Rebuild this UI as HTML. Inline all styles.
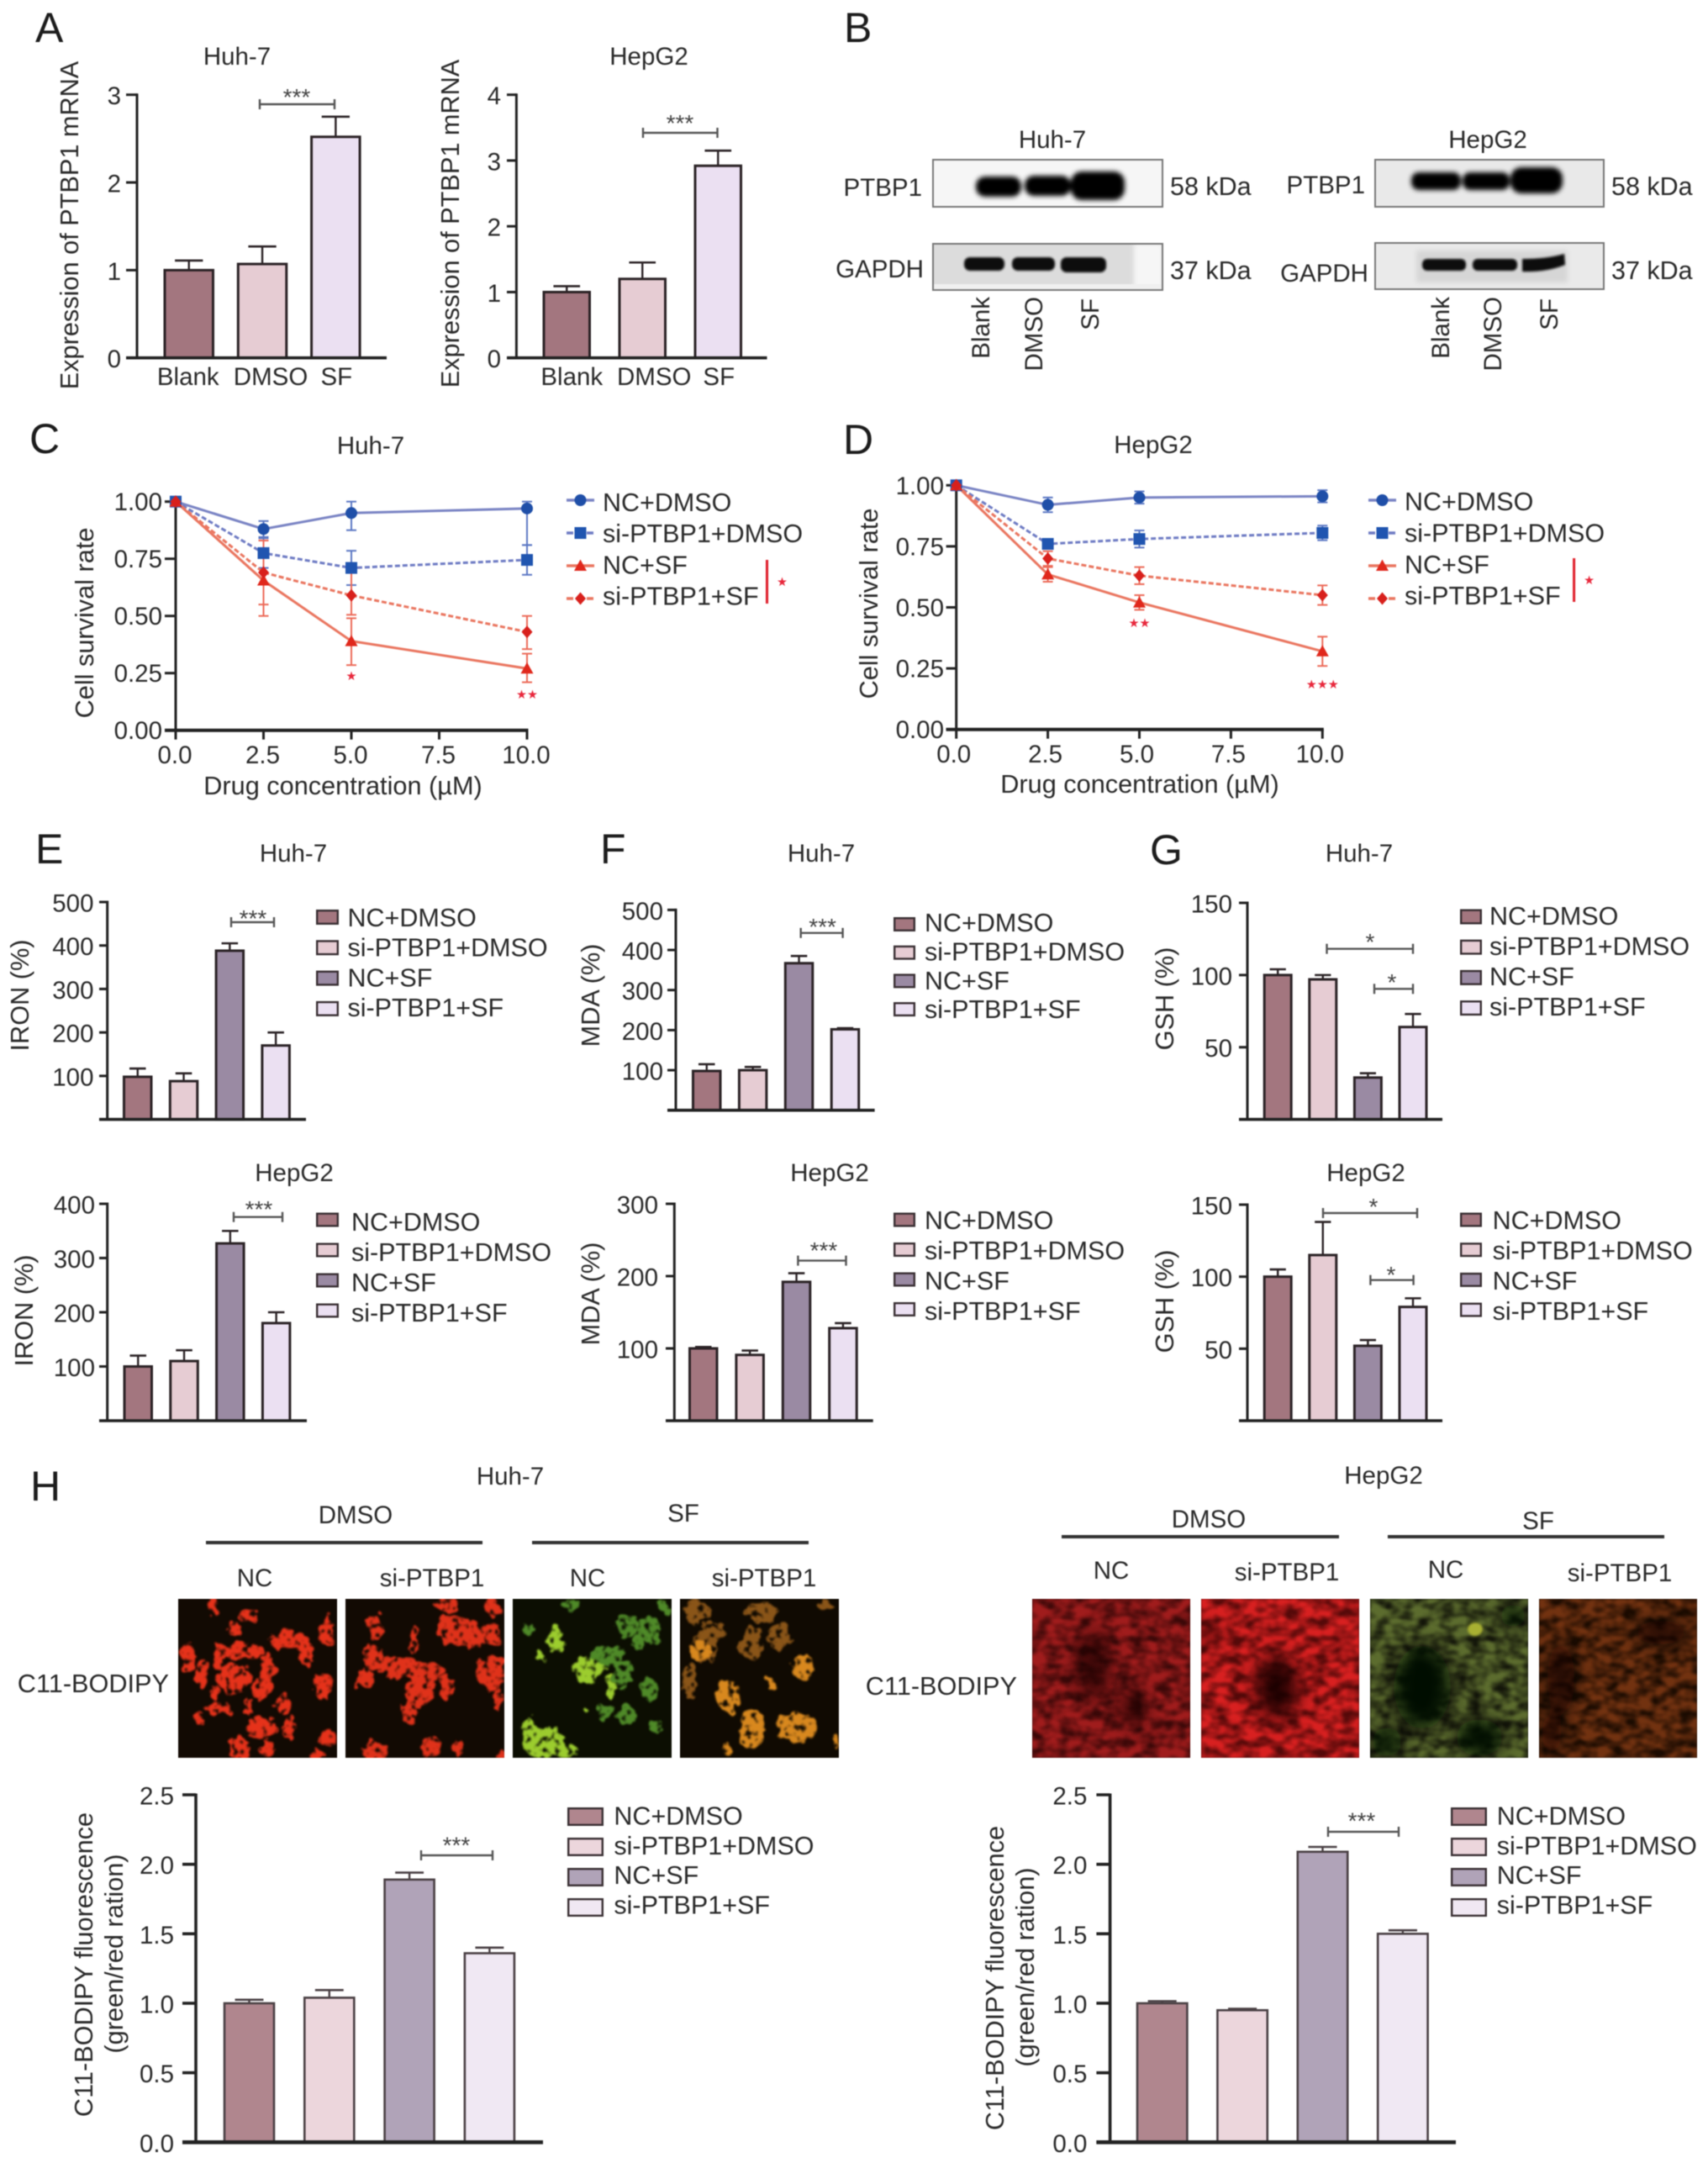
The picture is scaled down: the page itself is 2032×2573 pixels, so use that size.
<!DOCTYPE html>
<html lang="en">
<head>
<meta charset="utf-8">
<title>PTBP1 multi-panel figure</title>
<style>
html,body{margin:0;padding:0;background:#fff;}
svg#figure{display:block;filter:blur(.55px);}
text{font-family:"Liberation Sans",Arial,sans-serif;font-size:29.5px;fill:#2a2a2a;}
.panel{font-size:50px;fill:#1c1c1c;}
.wide{font-size:30.7px;}
.leg{font-size:30.5px;}
</style>
</head>
<body>
<svg id="figure" xmlns="http://www.w3.org/2000/svg" width="2032" height="2573" viewBox="0 0 2032 2573">
<defs>
<filter id="b1" x="-30%" y="-30%" width="160%" height="160%"><feGaussianBlur stdDeviation="1.4"/></filter>
<filter id="b3" x="-30%" y="-60%" width="160%" height="220%"><feGaussianBlur stdDeviation="3"/></filter>
<filter id="b12" x="-60%" y="-60%" width="220%" height="220%"><feGaussianBlur stdDeviation="11"/></filter>
<filter id="cells" x="-5%" y="-5%" width="110%" height="110%" color-interpolation-filters="sRGB"><feTurbulence type="fractalNoise" baseFrequency=".09" numOctaves="2" seed="5" result="n"/><feDisplacementMap in="SourceGraphic" in2="n" scale="16" xChannelSelector="R" yChannelSelector="G" result="d"/><feTurbulence type="fractalNoise" baseFrequency=".14" numOctaves="2" seed="9" result="m"/><feColorMatrix in="m" type="matrix" values="0 0 0 0 0 0 0 0 0 0 0 0 0 0 0 5 0 0 0 -1.3" result="a"/><feComposite in="d" in2="a" operator="in" result="c"/><feGaussianBlur in="c" stdDeviation="1"/></filter>
<filter id="tex1" x="0" y="0" width="1" height="1" color-interpolation-filters="sRGB"><feTurbulence type="fractalNoise" baseFrequency=".06 .09" numOctaves="2" seed="3" result="n"/><feColorMatrix in="n" type="matrix" values="0 0 0 0 0 0 0 0 0 0 0 0 0 0 0 2.4 0 0 0 -.6" result="a"/><feComposite in="SourceGraphic" in2="a" operator="in" result="c"/><feGaussianBlur in="c" stdDeviation="1"/></filter>
<filter id="tex2" x="0" y="0" width="1" height="1" color-interpolation-filters="sRGB"><feTurbulence type="fractalNoise" baseFrequency=".06 .09" numOctaves="2" seed="11" result="n"/><feColorMatrix in="n" type="matrix" values="0 0 0 0 0 0 0 0 0 0 0 0 0 0 0 2.4 0 0 0 -.6" result="a"/><feComposite in="SourceGraphic" in2="a" operator="in" result="c"/><feGaussianBlur in="c" stdDeviation="1"/></filter>
</defs>
<rect width="2032" height="2573" fill="#fff"/>

<!-- panel letters -->
<text class="panel" x="42" y="50">A</text>
<text class="panel" x="1004" y="50">B</text>
<text class="panel" x="35" y="539">C</text>
<text class="panel" x="1003" y="540">D</text>
<text class="panel" x="42" y="1027">E</text>
<text class="panel" x="714" y="1027">F</text>
<text class="panel" x="1368" y="1028">G</text>
<text class="panel" x="36" y="1785">H</text>

<!-- chart titles -->
<text x="282" y="77" text-anchor="middle">Huh-7</text>
<text x="772" y="77" text-anchor="middle">HepG2</text>
<text x="441" y="540" text-anchor="middle">Huh-7</text>
<text x="1372" y="539" text-anchor="middle">HepG2</text>
<text x="349" y="1025" text-anchor="middle">Huh-7</text>
<text x="350" y="1405" text-anchor="middle">HepG2</text>
<text x="977" y="1025" text-anchor="middle">Huh-7</text>
<text x="987" y="1405" text-anchor="middle">HepG2</text>
<text x="1617" y="1025" text-anchor="middle">Huh-7</text>
<text x="1625" y="1405" text-anchor="middle">HepG2</text>

<!-- y axis titles -->
<text class="wide" x="93" y="268" text-anchor="middle" transform="rotate(-90 93 268)">Expression of PTBP1 mRNA</text>
<text class="wide" x="546" y="266" text-anchor="middle" transform="rotate(-90 546 266)">Expression of PTBP1 mRNA</text>
<text class="wide" x="111" y="741" text-anchor="middle" transform="rotate(-90 111 741)">Cell survival rate</text>
<text class="wide" x="1044" y="718" text-anchor="middle" transform="rotate(-90 1044 718)">Cell survival rate</text>
<text class="wide" x="408" y="945" text-anchor="middle">Drug concentration (µM)</text>
<text class="wide" x="1356" y="943" text-anchor="middle">Drug concentration (µM)</text>
<text class="wide" x="34" y="1184" text-anchor="middle" transform="rotate(-90 34 1184)">IRON (%)</text>
<text class="wide" x="39" y="1559" text-anchor="middle" transform="rotate(-90 39 1559)">IRON (%)</text>
<text class="wide" x="713" y="1184" text-anchor="middle" transform="rotate(-90 713 1184)">MDA (%)</text>
<text class="wide" x="713" y="1539" text-anchor="middle" transform="rotate(-90 713 1539)">MDA (%)</text>
<text class="wide" x="1396" y="1188" text-anchor="middle" transform="rotate(-90 1396 1188)">GSH (%)</text>
<text class="wide" x="1396" y="1548" text-anchor="middle" transform="rotate(-90 1396 1548)">GSH (%)</text>
<text class="wide" x="110" y="2337" text-anchor="middle" transform="rotate(-90 110 2337)">C11-BODIPY fluorescence</text>
<text class="wide" x="146" y="2324" text-anchor="middle" transform="rotate(-90 146 2324)">(green/red ration)</text>
<text class="wide" x="1194" y="2353" text-anchor="middle" transform="rotate(-90 1194 2353)">C11-BODIPY fluorescence</text>
<text class="wide" x="1230" y="2340" text-anchor="middle" transform="rotate(-90 1230 2340)">(green/red ration)</text>

<!-- panel B western blots -->
<g>
<text x="1252" y="176" text-anchor="middle">Huh-7</text>
<text x="1770" y="176" text-anchor="middle">HepG2</text>

<svg x="1109" y="189" width="275" height="58">
<rect width="275" height="58" fill="#f6f6f6"/>
<g fill="#060606" filter="url(#b3)"><rect x="52" y="21" width="54" height="24" rx="11"/><rect x="110" y="20" width="55" height="24" rx="11"/><rect x="165" y="15" width="64" height="34" rx="13"/></g>
<rect x="1" y="1" width="273" height="56" fill="none" stroke="#777" stroke-width="2"/>
</svg>
<svg x="1109" y="289" width="275" height="57">
<rect width="275" height="57" fill="#dcdcdc"/><rect x="240" width="35" height="57" fill="#f6f6f6" filter="url(#b3)"/><rect y="49" width="275" height="8" fill="#f0f0f0"/>
<g fill="#0c0c0c" filter="url(#b1)"><rect x="38" y="17" width="48" height="16" rx="7"/><rect x="95" y="17" width="51" height="16" rx="7"/><rect x="153" y="17" width="54" height="18" rx="7"/></g>
<rect x="1" y="1" width="273" height="55" fill="none" stroke="#777" stroke-width="2"/>
</svg>
<svg x="1635" y="189" width="274" height="58">
<rect width="274" height="58" fill="#e9e9e9"/>
<g fill="#060606" filter="url(#b3)"><rect x="44" y="16" width="59" height="21" rx="9"/><rect x="105" y="16" width="56" height="21" rx="9"/><rect x="162" y="10" width="62" height="31" rx="13"/></g>
<rect x="1" y="1" width="272" height="56" fill="none" stroke="#777" stroke-width="2"/>
</svg>
<svg x="1635" y="288" width="274" height="57">
<rect width="274" height="57" fill="#eaeaea"/><rect x="50" y="10" width="180" height="38" fill="#d6d6d6" filter="url(#b3)"/>
<g fill="#0c0c0c" filter="url(#b1)"><rect x="57" y="20" width="52" height="14" rx="6"/><rect x="117" y="20" width="53" height="14" rx="6"/><path d="M176 20 Q205 20 226 14 L227 27 Q205 36 176 35Z"/></g>
<rect x="1" y="1" width="272" height="55" fill="none" stroke="#777" stroke-width="2"/>
</svg>

<text x="1097" y="233" text-anchor="end">PTBP1</text>
<text x="1099" y="330" text-anchor="end">GAPDH</text>
<text class="leg" x="1392" y="232">58 kDa</text>
<text class="leg" x="1392" y="332">37 kDa</text>
<text x="1624" y="230" text-anchor="end">PTBP1</text>
<text x="1628" y="335" text-anchor="end">GAPDH</text>
<text class="leg" x="1917" y="232">58 kDa</text>
<text class="leg" x="1917" y="332">37 kDa</text>

<text x="1177" y="353" text-anchor="end" transform="rotate(-90 1177 353)">Blank</text>
<text x="1240" y="353" text-anchor="end" transform="rotate(-90 1240 353)">DMSO</text>
<text x="1307" y="355" text-anchor="end" transform="rotate(-90 1307 355)">SF</text>
<text x="1724" y="353" text-anchor="end" transform="rotate(-90 1724 353)">Blank</text>
<text x="1786" y="353" text-anchor="end" transform="rotate(-90 1786 353)">DMSO</text>
<text x="1853" y="355" text-anchor="end" transform="rotate(-90 1853 355)">SF</text>
</g>

<!-- panel H headers -->
<g>
<text x="607" y="1766" text-anchor="middle">Huh-7</text>
<text x="423" y="1812" text-anchor="middle">DMSO</text>
<text x="813" y="1810" text-anchor="middle">SF</text>
<rect x="245" y="1833" width="329" height="4" fill="#333"/>
<rect x="633" y="1833" width="329" height="4" fill="#333"/>
<text x="303" y="1887" text-anchor="middle">NC</text>
<text x="514" y="1887" text-anchor="middle">si-PTBP1</text>
<text x="699" y="1887" text-anchor="middle">NC</text>
<text x="909" y="1887" text-anchor="middle">si-PTBP1</text>
<text class="wide" x="201" y="2013" text-anchor="end">C11-BODIPY</text>
</g>
<g>
<text x="1646" y="1765" text-anchor="middle">HepG2</text>
<text x="1438" y="1817" text-anchor="middle">DMSO</text>
<text x="1830" y="1819" text-anchor="middle">SF</text>
<rect x="1263" y="1826" width="330" height="4" fill="#333"/>
<rect x="1651" y="1826" width="329" height="4" fill="#333"/>
<text x="1322" y="1878" text-anchor="middle">NC</text>
<text x="1531" y="1880" text-anchor="middle">si-PTBP1</text>
<text x="1720" y="1877" text-anchor="middle">NC</text>
<text x="1927" y="1881" text-anchor="middle">si-PTBP1</text>
<text class="wide" x="1210" y="2016" text-anchor="end">C11-BODIPY</text>
</g>

<!-- Huh-7 fluorescence micrographs -->
<svg x="212" y="1902" width="189" height="189">
<rect width="189" height="189" fill="#120a03"/>
<g fill="#e6321a" filter="url(#cells)">
<ellipse cx="41" cy="8" rx="5" ry="12"/><ellipse cx="83" cy="20" rx="14" ry="7"/><ellipse cx="67" cy="36" rx="8" ry="8"/><ellipse cx="177" cy="38" rx="9" ry="18"/><ellipse cx="132" cy="50" rx="24" ry="12"/><ellipse cx="154" cy="65" rx="10" ry="14"/><ellipse cx="12" cy="68" rx="8" ry="18"/><ellipse cx="73" cy="63" rx="28" ry="10"/><ellipse cx="47" cy="71" rx="6" ry="18"/><ellipse cx="28" cy="91" rx="8" ry="18"/><ellipse cx="106" cy="85" rx="9" ry="20"/><ellipse cx="67" cy="95" rx="20" ry="18"/><ellipse cx="173" cy="105" rx="11" ry="16"/><ellipse cx="99" cy="108" rx="12" ry="12"/><ellipse cx="44" cy="113" rx="7" ry="8"/><ellipse cx="125" cy="125" rx="10" ry="12"/><ellipse cx="47" cy="131" rx="14" ry="8"/><ellipse cx="25" cy="143" rx="7" ry="6"/><ellipse cx="83" cy="128" rx="6" ry="10"/><ellipse cx="99" cy="153" rx="18" ry="14"/><ellipse cx="132" cy="153" rx="7" ry="14"/><ellipse cx="73" cy="178" rx="12" ry="14"/><ellipse cx="177" cy="165" rx="10" ry="10"/><ellipse cx="106" cy="178" rx="7" ry="10"/><ellipse cx="165" cy="185" rx="8" ry="6"/>
</g></svg>
<svg x="411" y="1902" width="189" height="189">
<rect width="189" height="189" fill="#120a03"/>
<g fill="#e0321a" filter="url(#cells)">
<ellipse cx="120" cy="8" rx="14" ry="8"/><ellipse cx="175" cy="11" rx="10" ry="12"/><ellipse cx="36" cy="33" rx="9" ry="14"/><ellipse cx="140" cy="41" rx="30" ry="16"/><ellipse cx="82" cy="51" rx="6" ry="15"/><ellipse cx="175" cy="41" rx="10" ry="15"/><ellipse cx="127" cy="31" rx="18" ry="12"/><ellipse cx="33" cy="68" rx="12" ry="14"/><ellipse cx="62" cy="81" rx="22" ry="12"/><ellipse cx="23" cy="95" rx="12" ry="14"/><ellipse cx="95" cy="88" rx="20" ry="14"/><ellipse cx="173" cy="88" rx="18" ry="20"/><ellipse cx="88" cy="111" rx="18" ry="18"/><ellipse cx="120" cy="105" rx="8" ry="16"/><ellipse cx="75" cy="135" rx="9" ry="14"/><ellipse cx="36" cy="181" rx="14" ry="14"/><ellipse cx="101" cy="175" rx="12" ry="12"/><ellipse cx="134" cy="178" rx="6" ry="10"/><ellipse cx="185" cy="185" rx="6" ry="6"/><ellipse cx="182" cy="118" rx="5" ry="14"/>
</g></svg>
<svg x="610" y="1902" width="189" height="189">
<rect width="189" height="189" fill="#0c0e02"/>
<g fill="#4f8a28" filter="url(#cells)">
<ellipse cx="70" cy="6" rx="10" ry="6"/><ellipse cx="181" cy="11" rx="6" ry="10"/><ellipse cx="19" cy="35" rx="7" ry="8"/><ellipse cx="136" cy="31" rx="14" ry="14"/><ellipse cx="162" cy="35" rx="12" ry="14"/><ellipse cx="149" cy="51" rx="8" ry="8"/><ellipse cx="171" cy="48" rx="5" ry="8"/><ellipse cx="113" cy="68" rx="20" ry="12"/><ellipse cx="130" cy="91" rx="12" ry="20"/><ellipse cx="162" cy="108" rx="12" ry="14"/><ellipse cx="110" cy="135" rx="10" ry="8"/><ellipse cx="136" cy="138" rx="12" ry="12"/><ellipse cx="171" cy="153" rx="8" ry="8"/>
</g>
<g fill="#9ccd2e" filter="url(#cells)">
<ellipse cx="51" cy="48" rx="10" ry="16"/><ellipse cx="32" cy="68" rx="6" ry="6"/><ellipse cx="90" cy="85" rx="18" ry="16"/><ellipse cx="116" cy="105" rx="5" ry="14"/><ellipse cx="19" cy="155" rx="8" ry="14"/><ellipse cx="38" cy="171" rx="26" ry="18"/><ellipse cx="64" cy="181" rx="14" ry="8"/><ellipse cx="87" cy="131" rx="4" ry="4"/>
</g></svg>
<svg x="809" y="1902" width="189" height="189">
<rect width="189" height="189" fill="#100a02"/>
<g fill="#8a5518" filter="url(#cells)">
<ellipse cx="21" cy="15" rx="16" ry="14"/><ellipse cx="98" cy="15" rx="20" ry="12"/><ellipse cx="173" cy="8" rx="10" ry="6"/><ellipse cx="40" cy="41" rx="14" ry="14"/><ellipse cx="85" cy="55" rx="14" ry="20"/><ellipse cx="118" cy="45" rx="14" ry="16"/><ellipse cx="11" cy="98" rx="8" ry="20"/><ellipse cx="27" cy="58" rx="16" ry="18"/>
</g>
<g fill="#d8881e" filter="url(#cells)">
<ellipse cx="24" cy="61" rx="12" ry="12"/><ellipse cx="147" cy="81" rx="14" ry="14"/><ellipse cx="56" cy="115" rx="14" ry="20"/><ellipse cx="108" cy="100" rx="5" ry="8"/><ellipse cx="85" cy="155" rx="16" ry="24"/><ellipse cx="140" cy="153" rx="24" ry="18"/><ellipse cx="56" cy="178" rx="6" ry="6"/><ellipse cx="183" cy="171" rx="5" ry="8"/>
</g></svg>

<!-- HepG2 fluorescence micrographs -->
<svg x="1228" y="1902" width="188" height="189">
<rect width="188" height="189" fill="#3c0909"/><rect width="188" height="189" fill="#a01c1c" filter="url(#tex1)"/>
<g fill="#140202" opacity=".75" filter="url(#b12)"><ellipse cx="73" cy="80" rx="20" ry="42"/><ellipse cx="120" cy="130" rx="16" ry="22"/></g>
</svg>
<svg x="1429" y="1902" width="188" height="189">
<rect width="188" height="189" fill="#550a0a"/><rect width="188" height="189" fill="#d82020" filter="url(#tex2)"/>
<g fill="#120202" opacity=".9" filter="url(#b12)"><ellipse cx="90" cy="105" rx="26" ry="38"/><ellipse cx="10" cy="45" rx="8" ry="14"/></g>
</svg>
<svg x="1630" y="1902" width="188" height="189">
<rect width="188" height="189" fill="#14160a"/><rect width="188" height="189" fill="#5c6c2e" filter="url(#tex1)"/>
<g fill="#060700" filter="url(#b12)"><ellipse cx="62" cy="105" rx="34" ry="50"/><ellipse cx="130" cy="165" rx="28" ry="22"/><ellipse cx="170" cy="20" rx="16" ry="14"/><ellipse cx="20" cy="170" rx="18" ry="18"/></g>
<ellipse cx="125" cy="36" rx="9" ry="8" fill="#a8b030" filter="url(#b1)"/>
</svg>
<svg x="1831" y="1902" width="188" height="189">
<rect width="188" height="189" fill="#1c0c02"/><rect width="188" height="189" fill="#723210" filter="url(#tex2)"/>
<g fill="#080300" opacity=".85" filter="url(#b12)"><ellipse cx="26" cy="95" rx="16" ry="44"/><ellipse cx="145" cy="40" rx="32" ry="14"/><ellipse cx="15" cy="160" rx="12" ry="26"/></g>
</svg>

<g id="charts"></g>
</svg>

<script>
/* ---------- shared categories ---------- */
const treatmentCategories = ['Blank', 'DMSO', 'SF'];
const groupCategories = ['NC+DMSO', 'si-PTBP1+DMSO', 'NC+SF', 'si-PTBP1+SF'];

/* ---------- panel A ---------- */
const aHuhValues = [1, 1.07, 2.52];
const aHuhErrTop = [1.11, 1.27, 2.75];
const aHuhTicks = [0, 1, 2, 3];
const aHepValues = [1, 1.2, 2.92];
const aHepErrTop = [1.09, 1.45, 3.15];
const aHepTicks = [0, 1, 2, 3, 4];

/* ---------- panels C and D ---------- */
const survivalDoses = [0, 2.5, 5, 10];
const survivalXTicks = [0, 2.5, 5, 7.5, 10];
const survivalYTicks = [0, 0.25, 0.5, 0.75, 1];

const cNcDmso = [1, 0.88, 0.95, 0.97];
const cNcDmsoHigh = [1, 0.915, 1.0, 1.0];
const cNcDmsoLow = [1, 0.845, 0.875, 0.81];
const cSiDmso = [1, 0.775, 0.71, 0.745];
const cSiDmsoHigh = [1, 0.84, 0.785, 0.81];
const cSiDmsoLow = [1, 0.71, 0.635, 0.68];
const cNcSf = [1, 0.655, 0.39, 0.27];
const cNcSfHigh = [1, 0.83, 0.49, 0.335];
const cNcSfLow = [1, 0.5, 0.285, 0.21];
const cSiSf = [1, 0.69, 0.59, 0.43];
const cSiSfHigh = [1, 0.83, 0.695, 0.5];
const cSiSfLow = [1, 0.55, 0.505, 0.355];

const dNcDmso = [1, 0.92, 0.95, 0.955];
const dNcDmsoHigh = [1, 0.95, 0.975, 0.98];
const dNcDmsoLow = [1, 0.89, 0.925, 0.93];
const dSiDmso = [1, 0.76, 0.78, 0.805];
const dSiDmsoHigh = [1, 0.78, 0.815, 0.835];
const dSiDmsoLow = [1, 0.74, 0.745, 0.775];
const dNcSf = [1, 0.635, 0.52, 0.32];
const dNcSfHigh = [1, 0.665, 0.55, 0.38];
const dNcSfLow = [1, 0.605, 0.49, 0.26];
const dSiSf = [1, 0.7, 0.63, 0.55];
const dSiSfHigh = [1, 0.73, 0.665, 0.59];
const dSiSfLow = [1, 0.67, 0.595, 0.51];

/* ---------- panel E ---------- */
const eHuhValues = [98, 88, 388, 170];
const eHuhErrTop = [117, 106, 405, 200];
const eHuhTicks = [100, 200, 300, 400, 500];
const eHepValues = [100, 110, 327, 180];
const eHepErrTop = [120, 130, 350, 200];
const eHepTicks = [100, 200, 300, 400];

/* ---------- panel F ---------- */
const fHuhValues = [98, 100, 367, 202];
const fHuhErrTop = [115, 108, 385, 205];
const fHuhTicks = [100, 200, 300, 400, 500];
const fHepValues = [100, 91, 192, 128];
const fHepErrTop = [102, 97, 204, 135];
const fHepTicks = [100, 200, 300];

/* ---------- panel G ---------- */
const gHuhValues = [100, 97, 29, 64];
const gHuhErrTop = [104, 100, 32, 73];
const gHuhTicks = [50, 100, 150];
const gHepValues = [100, 115, 52, 79];
const gHepErrTop = [105, 138, 56, 85];
const gHepTicks = [50, 100, 150];

/* ---------- panel H ---------- */
const hHuhValues = [1, 1.04, 1.89, 1.36];
const hHuhErrTop = [1.025, 1.095, 1.94, 1.4];
const hHepValues = [1, 0.95, 2.09, 1.5];
const hHepErrTop = [1.015, 0.96, 2.125, 1.525];
const hTicks = [0, 0.5, 1, 1.5, 2, 2.5];

/* ---------- colours ---------- */
const paletteThree = ['#a3767f', '#e6ccd3', '#ebe0f2'];
const paletteFour = ['#a3767f', '#e6ccd3', '#9a8aa3', '#ebe0f2'];
const paletteLight = ['#b0868e', '#ecd6dc', '#b0a3b8', '#f0e8f3'];

const NS = 'http://www.w3.org/2000/svg';
const chartsRoot = document.getElementById('charts');

function mk(parent, tag, attrs, txt) {
  const e = document.createElementNS(NS, tag);
  for (const k in attrs) e.setAttribute(k, attrs[k]);
  if (txt !== undefined) e.textContent = txt;
  parent.appendChild(e);
  return e;
}
function seg(parent, x1, y1, x2, y2, stroke, width, dash) {
  const attrs = {x1: x1, y1: y1, x2: x2, y2: y2, stroke: stroke, 'stroke-width': width};
  if (dash) attrs['stroke-dasharray'] = dash;
  return mk(parent, 'line', attrs);
}
function starText(parent, x, cy, str) {
  const t = mk(parent, 'text', {x: x, y: cy + 13, 'text-anchor': 'middle', style: 'font-size:28px;fill:#444'}, str);
  
  
  return t;
}
function redStars(parent, x, cy, str) {
  const t = mk(parent, 'text', {x: x, y: cy + 6, 'text-anchor': 'middle', style: 'font-family:"DejaVu Sans",sans-serif;font-size:14.5px;fill:#e8283c'}, str);
  
  
  return t;
}

function drawBarChart(c, values, errTop, ticks, palette, categories) {
  const g = mk(chartsRoot, 'g', {});
  
  
  const yScale = v => c.y0 + (c.yTop - c.y0) * v / c.max;
  const xLeft = i => c.barLeft + i * c.step;
  const sw = c.stroke || 3;
  const col = c.color || '#2b2326';

  values.forEach((v, i) => {
    const mid = xLeft(i) + c.barW / 2;
    const capW = c.barW * 0.55;
    const stem = seg(g, mid, yScale(v), mid, yScale(errTop[i]), col, 2.4);
    
    
    const cap = seg(g, mid - capW / 2, yScale(errTop[i]), mid + capW / 2, yScale(errTop[i]), col, 2.6);
    
    
    const bar = mk(g, 'rect', {x: xLeft(i) + sw / 2, y: yScale(v), width: c.barW - sw, height: c.y0 - yScale(v), fill: palette[i], stroke: col, 'stroke-width': sw});
    
    
  });

  const yAxis = seg(g, c.axisX, c.yTop - 1.5, c.axisX, c.y0, '#222', c.axisW || 3);
  
  
  const xAxis = seg(g, c.tickLeft, c.y0, c.xEnd, c.y0, '#222', c.axisW ? c.axisW + 1 : 3.6);
  
  

  ticks.forEach(t => {
    const mark = seg(g, c.tickLeft, yScale(t), c.axisX, yScale(t), '#222', c.axisW || 3);
    
    
    const lab = mk(g, 'text', {x: c.labelRight, y: yScale(t) + 11.5, 'text-anchor': 'end'}, c.decimals ? t.toFixed(c.decimals) : String(t));
    
    
  });

  if (categories) {
    categories.forEach((name, i) => {
      const lab = mk(g, 'text', {x: xLeft(i) + c.barW / 2 + c.catShift[i], y: c.catBaseline, 'text-anchor': 'middle'}, name);
      
      
    });
  }

  (c.brackets || []).forEach(b => {
    const h = seg(g, b.l, b.y, b.r, b.y, '#555', 2.4);
    
    
    const lc = seg(g, b.l, b.y - 6, b.l, b.y + 6, '#555', 2.4);
    
    
    const rc = seg(g, b.r, b.y - 6, b.r, b.y + 6, '#555', 2.4);
    
    
    starText(g, b.sx, b.sy, b.txt);
  });
}

function drawBarLegend(l, labels, palette) {
  const g = mk(chartsRoot, 'g', {});
  
  
  labels.forEach((name, i) => {
    const sw = mk(g, 'rect', {x: l.sx + 1.2, y: l.sy + i * l.sStep + 1.2, width: l.sw - 2.4, height: l.sh - 2.4, fill: palette[i], stroke: '#3a3034', 'stroke-width': 2.4});
    
    
    const t = mk(g, 'text', {x: l.tx, y: l.tb + i * l.tStep, class: 'leg'}, name);
    
    
  });
}

function markerShape(parent, kind, x, y, fill) {
  let m;
  if (kind === 'circle') m = mk(parent, 'circle', {cx: x, cy: y, r: 7, fill: fill});
  else if (kind === 'square') m = mk(parent, 'rect', {x: x - 7, y: y - 7, width: 14, height: 14, fill: fill});
  else if (kind === 'triangle') m = mk(parent, 'polygon', {points: (x - 7.5) + ',' + (y + 6) + ' ' + (x + 7.5) + ',' + (y + 6) + ' ' + x + ',' + (y - 7.5), fill: fill});
  else m = mk(parent, 'polygon', {points: x + ',' + (y - 7.5) + ' ' + (x + 6.5) + ',' + y + ' ' + x + ',' + (y + 7.5) + ' ' + (x - 6.5) + ',' + y, fill: fill});
  return m;
}

function drawSurvivalChart(c, doses, series, xTicks, yTicks) {
  const g = mk(chartsRoot, 'g', {});
  
  
  const xScale = d => c.x0 + (c.x10 - c.x0) * d / 10;
  const yScale = v => c.y0 + (c.y1 - c.y0) * v;

  xTicks.forEach(t => {
    const mark = seg(g, xScale(t), c.y0, xScale(t), c.y0 + 11, '#222', 3);
    
    
    const lab = mk(g, 'text', {x: xScale(t) + c.labelShift, y: c.xLabelY, 'text-anchor': 'middle'}, t.toFixed(1));
    
    
  });
  yTicks.forEach(t => {
    const mark = seg(g, c.tickLeft, yScale(t), c.x0, yScale(t), '#222', 3);
    
    
    const lab = mk(g, 'text', {x: c.labelRight, y: yScale(t) + 10.5, 'text-anchor': 'end'}, t.toFixed(2));
    
    
  });
  const yAxis = seg(g, c.x0, yScale(1), c.x0, c.y0, '#222', 3);
  
  
  const xAxis = seg(g, c.tickLeft, c.y0, c.x10 + 1.5, c.y0, '#222', 4);
  
  

  series.forEach(s => {
    const pts = doses.map((d, i) => xScale(d) + ',' + yScale(s.values[i])).join(' ');
    const line = mk(g, 'polyline', {points: pts, fill: 'none', stroke: s.line, 'stroke-width': 3});
    if (s.dash) line.setAttribute('stroke-dasharray', '6 3');
    
    
    doses.forEach((d, i) => {
      if (i === 0) return;
      const stem = seg(g, xScale(d), yScale(s.high[i]), xScale(d), yScale(s.low[i]), s.err, 2);
      
      
      const top = seg(g, xScale(d) - 6, yScale(s.high[i]), xScale(d) + 6, yScale(s.high[i]), s.err, 2);
      
      
      const bot = seg(g, xScale(d) - 6, yScale(s.low[i]), xScale(d) + 6, yScale(s.low[i]), s.err, 2);
      
      
    });
  });
  series.forEach(s => {
    doses.forEach((d, i) => {
      const m = markerShape(g, s.marker, xScale(d), yScale(s.values[i]), s.fill);
      
      
    });
  });

  const lg = mk(g, 'g', {});
  
  
  series.forEach((s, i) => {
    const ly = c.legendMarkY + i * c.legendMarkStep;
    const sample = seg(lg, c.legendX, ly, c.legendX + 33, ly, s.line, 3.6, s.dash ? '8 4' : null);
    
    
    const mk2 = markerShape(lg, s.marker, c.legendX + 16.5, ly, s.fill);
    
    
    const t = mk(lg, 'text', {x: c.legendText, y: c.legendBase + i * c.legendTextStep, class: 'leg'}, s.name);
    
    
  });
  const rb = mk(g, 'rect', {x: c.redBarX - 1.5, y: c.redBarTop, width: 3, height: c.redBarH, fill: '#e0202c'});
  
  
  redStars(g, c.redBarX + 18, c.redBarTop + 25, '★');
  c.stars.forEach(s => redStars(g, xScale(s.dose), s.cy, s.txt));
}

function seriesSet(names, nd, ndh, ndl, sd, sdh, sdl, ns, nsh, nsl, ss, ssh, ssl) {
  return [
    {name: names[0], values: nd, high: ndh, low: ndl, line: '#7a84c4', err: '#5c78c4', fill: '#1f4fa8', marker: 'circle', dash: false},
    {name: names[1], values: sd, high: sdh, low: sdl, line: '#6f7cc4', err: '#5c78c4', fill: '#2055b0', marker: 'square', dash: true},
    {name: names[2], values: ns, high: nsh, low: nsl, line: '#ea7660', err: '#ec6a58', fill: '#e0281c', marker: 'triangle', dash: false},
    {name: names[3], values: ss, high: ssh, low: ssl, line: '#ea7660', err: '#ec6a58', fill: '#d8201c', marker: 'diamond', dash: true}
  ];
}

/* panel A */
drawBarChart({yTop: 112.7, y0: 425.7, max: 3, axisX: 163, tickLeft: 150, xEnd: 460, barLeft: 194.5, barW: 60.5, step: 87.3, labelRight: 144, catShift: [-1, 10, 1], catBaseline: 458,
  brackets: [{l: 309, r: 398, y: 124, sx: 353, sy: 112, txt: '***'}]}, aHuhValues, aHuhErrTop, aHuhTicks, paletteThree, treatmentCategories);
drawBarChart({yTop: 112.7, y0: 425.7, max: 4, axisX: 614.4, tickLeft: 603, xEnd: 912.5, barLeft: 645.5, barW: 57.5, step: 90, labelRight: 596, catShift: [6, 14, 1], catBaseline: 458,
  brackets: [{l: 765, r: 853.5, y: 158, sx: 809, sy: 143, txt: '***'}]}, aHepValues, aHepErrTop, aHepTicks, paletteThree, treatmentCategories);

/* panels C, D */
drawSurvivalChart({x0: 209, x10: 627, y0: 868.7, y1: 596.7, tickLeft: 196, labelRight: 193, xLabelY: 908, labelShift: -1,
  legendX: 674, legendText: 717, legendMarkY: 595, legendMarkStep: 39, legendBase: 608, legendTextStep: 37.2,
  redBarX: 912.5, redBarTop: 666, redBarH: 52, stars: [{dose: 5, cy: 803, txt: '★'}, {dose: 10, cy: 825, txt: '★★'}]},
  survivalDoses, seriesSet(groupCategories, cNcDmso, cNcDmsoHigh, cNcDmsoLow, cSiDmso, cSiDmsoHigh, cSiDmsoLow, cNcSf, cNcSfHigh, cNcSfLow, cSiSf, cSiSfHigh, cSiSfLow), survivalXTicks, survivalYTicks);
drawSurvivalChart({x0: 1137.7, x10: 1573.3, y0: 867.7, y1: 577.3, tickLeft: 1125.6, labelRight: 1123, xLabelY: 907, labelShift: -3,
  legendX: 1628, legendText: 1671, legendMarkY: 595, legendMarkStep: 39, legendBase: 607, legendTextStep: 37.4,
  redBarX: 1872.6, redBarTop: 664, redBarH: 52, stars: [{dose: 5, cy: 740, txt: '★★'}, {dose: 10, cy: 813, txt: '★★★'}]},
  survivalDoses, seriesSet(groupCategories, dNcDmso, dNcDmsoHigh, dNcDmsoLow, dSiDmso, dSiDmsoHigh, dSiDmsoLow, dNcSf, dNcSfHigh, dNcSfLow, dSiSf, dSiSfHigh, dSiSfLow), survivalXTicks, survivalYTicks);

/* panel E */
drawBarChart({yTop: 1073, y0: 1331.6, max: 500, axisX: 127.7, tickLeft: 118, xEnd: 364, barLeft: 146, barW: 35.5, step: 54.8, labelRight: 111.5,
  brackets: [{l: 275, r: 326, y: 1097, sx: 301, sy: 1089, txt: '***'}]}, eHuhValues, eHuhErrTop, eHuhTicks, paletteFour);
drawBarLegend({sx: 376, sw: 27, sy: 1082, sh: 18, sStep: 36.3, tx: 413.5, tb: 1102, tStep: 35.7}, groupCategories, paletteFour);
drawBarChart({yTop: 1432, y0: 1690, max: 400, axisX: 127.7, tickLeft: 118, xEnd: 365, barLeft: 146.5, barW: 35.5, step: 54.8, labelRight: 113,
  brackets: [{l: 278, r: 336, y: 1447.7, sx: 308, sy: 1435, txt: '***'}]}, eHepValues, eHepErrTop, eHepTicks, paletteFour);
drawBarLegend({sx: 376, sw: 27, sy: 1442.5, sh: 17, sStep: 36, tx: 418, tb: 1464, tStep: 36}, groupCategories, paletteFour);

/* panel F */
drawBarChart({yTop: 1082.4, y0: 1320.7, max: 500, axisX: 804, tickLeft: 794, xEnd: 1040.6, barLeft: 823, barW: 35.5, step: 54.9, labelRight: 789,
  brackets: [{l: 952.7, r: 1002.6, y: 1109.8, sx: 978.6, sy: 1099, txt: '***'}]}, fHuhValues, fHuhErrTop, fHuhTicks, paletteFour);
drawBarLegend({sx: 1063, sw: 26, sy: 1091, sh: 17, sStep: 33.7, tx: 1100, tb: 1108, tStep: 34.4}, groupCategories, paletteFour);
drawBarChart({yTop: 1432, y0: 1690, max: 300, axisX: 802.3, tickLeft: 792, xEnd: 1038.7, barLeft: 819, barW: 35.5, step: 55.4, labelRight: 783,
  brackets: [{l: 949.4, r: 1006.5, y: 1499.6, sx: 980, sy: 1484, txt: '***'}]}, fHepValues, fHepErrTop, fHepTicks, paletteFour);
drawBarLegend({sx: 1063, sw: 26, sy: 1442.5, sh: 17, sStep: 35.5, tx: 1100, tb: 1462, tStep: 36}, groupCategories, paletteFour);

/* panel G */
drawBarChart({yTop: 1074, y0: 1331.6, max: 150, axisX: 1484, tickLeft: 1474, xEnd: 1716, barLeft: 1502.7, barW: 35, step: 53.6, labelRight: 1466,
  brackets: [{l: 1578.5, r: 1681, y: 1128.7, sx: 1630, sy: 1117, txt: '*'}, {l: 1635, r: 1681, y: 1176.3, sx: 1656, sy: 1165, txt: '*'}]}, gHuhValues, gHuhErrTop, gHuhTicks, paletteFour);
drawBarLegend({sx: 1737, sw: 26, sy: 1081.5, sh: 18, sStep: 36.2, tx: 1772, tb: 1100, tStep: 36}, groupCategories, paletteFour);
drawBarChart({yTop: 1433, y0: 1690, max: 150, axisX: 1484, tickLeft: 1474, xEnd: 1716, barLeft: 1502.7, barW: 35, step: 53.6, labelRight: 1466,
  brackets: [{l: 1574, r: 1686, y: 1443, sx: 1634, sy: 1432, txt: '*'}, {l: 1630.4, r: 1681.6, y: 1522.7, sx: 1655, sy: 1513, txt: '*'}]}, gHepValues, gHepErrTop, gHepTicks, paletteFour);
drawBarLegend({sx: 1737, sw: 26, sy: 1442.5, sh: 17, sStep: 35.7, tx: 1775.6, tb: 1462, tStep: 36}, groupCategories, paletteFour);

/* panel H */
drawBarChart({yTop: 2135, y0: 2548.3, max: 2.5, axisX: 233, tickLeft: 217, xEnd: 646, barLeft: 265.7, barW: 61.6, step: 95.3, labelRight: 207, decimals: 1, stroke: 2.6, color: '#4a4044', axisW: 3.6,
  brackets: [{l: 501, r: 586, y: 2207, sx: 543, sy: 2191.6, txt: '***'}]}, hHuhValues, hHuhErrTop, hTicks, paletteLight);
drawBarLegend({sx: 675, sw: 43, sy: 2150, sh: 22, sStep: 36, tx: 730.4, tb: 2170.7, tStep: 35.2}, groupCategories, paletteLight);
drawBarChart({yTop: 2135, y0: 2548.3, max: 2.5, axisX: 1320.6, tickLeft: 1304.4, xEnd: 1732, barLeft: 1351.7, barW: 62, step: 95.4, labelRight: 1293.4, decimals: 1, stroke: 2.6, color: '#4a4044', axisW: 3.6,
  brackets: [{l: 1580, r: 1664, y: 2179, sx: 1620, sy: 2162.7, txt: '***'}]}, hHepValues, hHepErrTop, hTicks, paletteLight);
drawBarLegend({sx: 1726, sw: 43, sy: 2150, sh: 22, sStep: 36, tx: 1780.7, tb: 2170.7, tStep: 35.2}, groupCategories, paletteLight);
</script>
</body>
</html>
